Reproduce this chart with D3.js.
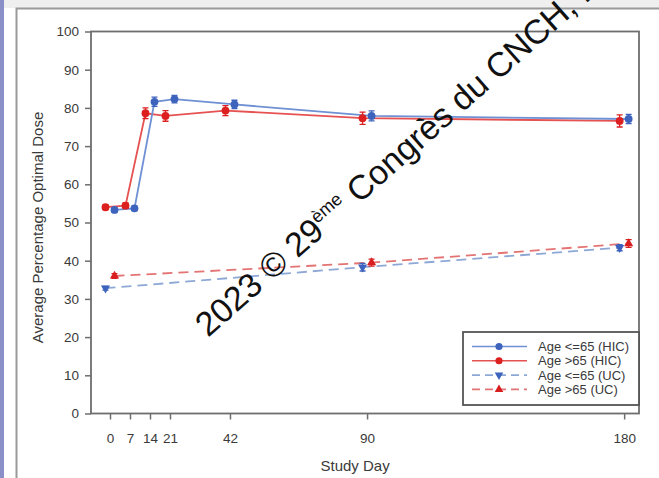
<!DOCTYPE html>
<html><head><meta charset="utf-8">
<script src="https://cdn.jsdelivr.net/npm/d3@7"></script>
<style>
html,body{margin:0;padding:0;background:#fff;}
svg{display:block;font-family:"Liberation Sans",Arial,sans-serif;}
</style></head>
<body>
<svg id="chart" width="659" height="478"></svg>
<script>
// ---- data ----
const days = [0, 7, 14, 21, 42, 90, 180];
const hicLe65 = [53.3, 53.7, 81.6, 82.3, 80.9, 77.9, 77.1];
const hicLe65Err = [0.6, 0.6, 1.2, 1.0, 1.1, 1.3, 1.2];
const hicGt65 = [54.0, 54.4, 78.6, 77.9, 79.3, 77.3, 76.6];
const hicGt65Err = [0.6, 0.7, 1.4, 1.4, 1.3, 1.6, 1.6];
const ucDays = [0, 90, 180];
const ucLe65 = [32.8, 38.3, 43.4];
const ucLe65Err = [0.5, 1.0, 0.8];
const ucGt65 = [36.0, 39.5, 44.5];
const ucGt65Err = [0.6, 0.9, 1.0];
const yTicks = [0, 10, 20, 30, 40, 50, 60, 70, 80, 90, 100];
const xTicks = [0, 7, 14, 21, 42, 90, 180];
const seriesNames = ["Age <=65 (HIC)", "Age >65 (HIC)", "Age <=65 (UC)", "Age >65 (UC)"];
const xTitle = "Study Day";
const yTitle = "Average Percentage Optimal Dose";

// ---- layout ----
const svg = d3.select("#chart");
const L = 91, R = 639, T = 31.5, B = 413.5;
const x = d3.scaleLinear().domain([-6.65, 185.2]).range([L, R]);
const y = d3.scaleLinear().domain([0, 100]).range([B, T]);

// page frame
svg.append("rect").attr("x", 0).attr("y", 0).attr("width", 659).attr("height", 8).attr("fill", "#efefef");
svg.append("rect").attr("x", 0).attr("y", 0).attr("width", 4).attr("height", 478).attr("fill", "#8a8fc8");
svg.append("path").attr("d", "M16.5,478 V8.5 H659").attr("fill", "none").attr("stroke", "#9a9a9a").attr("stroke-width", 2);

// axes
const axisCol = "#6e6e6e";
const gy = svg.append("g").attr("transform", `translate(${L},0)`)
  .call(d3.axisLeft(y).tickValues(yTicks).tickSize(6).tickPadding(6));
const gx = svg.append("g").attr("transform", `translate(0,${B})`)
  .call(d3.axisBottom(x).tickValues(xTicks).tickSize(6).tickPadding(14));
[gx, gy].forEach(g => {
  g.select(".domain").remove();
  g.selectAll(".tick line").attr("stroke", axisCol).attr("stroke-width", 1.5);
  g.selectAll(".tick text").attr("fill", "#3a3a3a").attr("font-size", 13.5)
    .attr("font-family", "'Liberation Sans',Arial,sans-serif");
});
svg.append("rect").attr("x", L).attr("y", T).attr("width", R - L).attr("height", B - T)
  .attr("fill", "none").attr("stroke", axisCol).attr("stroke-width", 1.8);

// titles
svg.append("text").attr("x", x(90) - 12).attr("y", 471).attr("text-anchor", "middle")
  .attr("font-size", 15).attr("fill", "#3a3a3a").text(xTitle);
svg.append("text").attr("transform", `translate(43,${(T + B) / 2 + 5}) rotate(-90)`)
  .attr("text-anchor", "middle").attr("font-size", 15).attr("fill", "#3a3a3a").text(yTitle);

// series
const series = [
  { name: seriesNames[0], xs: days, ys: hicLe65, err: hicLe65Err, off: 4.5, line: "#6f90d2", mark: "#3d63bd", dash: null, sym: "circle" },
  { name: seriesNames[1], xs: days, ys: hicGt65, err: hicGt65Err, off: -4.5, line: "#e65252", mark: "#dc1f1f", dash: null, sym: "circle" },
  { name: seriesNames[2], xs: ucDays, ys: ucLe65, err: ucLe65Err, off: -4.5, line: "#8ea8d6", mark: "#3d63bd", dash: "10,6", sym: "down" },
  { name: seriesNames[3], xs: ucDays, ys: ucGt65, err: ucGt65Err, off: 4.5, line: "#e47474", mark: "#d81e1e", dash: "10,6", sym: "up" }
];
const symPath = (s, size) => s === "circle" ? d3.symbol(d3.symbolCircle, size)() : d3.symbol(d3.symbolTriangle, size)();
const plot = svg.append("g");
[2, 3, 1, 0].forEach(i => {
  const s = series[i];
  const pts = s.xs.map((d, j) => [x(d) + s.off, y(s.ys[j])]);
  plot.append("path").attr("d", d3.line()(pts)).attr("fill", "none")
    .attr("stroke", s.line).attr("stroke-width", 1.8)
    .attr("stroke-dasharray", s.dash);
});
[2, 3, 1, 0].forEach(i => {
  const s = series[i];
  s.xs.forEach((d, j) => {
    const cx = x(d) + s.off;
    const y0 = y(s.ys[j] - s.err[j]), y1 = y(s.ys[j] + s.err[j]);
    plot.append("path").attr("d", `M${cx},${y0}V${y1}M${cx - 3},${y0}H${cx + 3}M${cx - 3},${y1}H${cx + 3}`)
      .attr("stroke", s.mark).attr("stroke-width", 1.3).attr("fill", "none");
    plot.append("path").attr("d", symPath(s.sym, s.sym === "circle" ? 48 : 36))
      .attr("transform", `translate(${cx},${y(s.ys[j])})${s.sym === "down" ? " rotate(180)" : ""}`)
      .attr("fill", s.mark);
  });
});

// legend
const lg = svg.append("g");
lg.append("rect").attr("x", 463).attr("y", 332).attr("width", 176).attr("height", 73)
  .attr("fill", "#fff").attr("stroke", "#555").attr("stroke-width", 1.8);
series.forEach((s, i) => {
  const yy = 346.5 + i * 14.3;
  lg.append("line").attr("x1", 472).attr("x2", 527).attr("y1", yy).attr("y2", yy)
    .attr("stroke", s.line).attr("stroke-width", 1.6).attr("stroke-dasharray", s.dash ? "8,5" : null);
  lg.append("path").attr("d", symPath(s.sym, s.sym === "circle" ? 40 : 32))
    .attr("transform", `translate(499,${yy})${s.sym === "down" ? " rotate(180)" : ""}`)
    .attr("fill", s.mark);
  lg.append("text").attr("x", 538).attr("y", yy + 4.5).attr("font-size", 13).attr("fill", "#3a3a3a").text(s.name);
});

// watermark
const wm = svg.append("text").attr("transform", "translate(208,338) rotate(-41.5)")
  .attr("font-size", 34).attr("fill", "#111").attr("font-family", "'Liberation Sans',Arial,sans-serif");
wm.append("tspan").text("2023 © 29");
wm.append("tspan").attr("font-size", 18).attr("dy", -13).text("ème");
wm.append("tspan").attr("dy", 13).text(" Congrès du CNCH, Paris");
</script>
</body></html>
